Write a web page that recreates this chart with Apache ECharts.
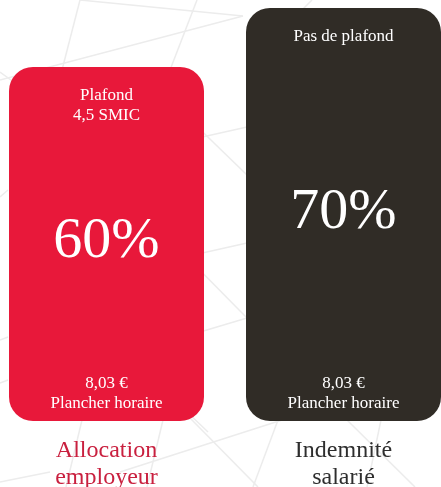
<!DOCTYPE html>
<html>
<head>
<meta charset="utf-8">
<script src="https://cdn.jsdelivr.net/npm/echarts@6/dist/echarts.min.js"></script>
<style>
  html, body { margin: 0; padding: 0; background: #fff; }
  #chart { width: 441px; height: 487px; }
</style>
</head>
<body>
<div id="chart"></div>
<script>
// données du graphique
var categories = ['Allocation\nemployeur', 'Indemnité\nsalarié'];
var values = [60, 70];
var pctLabels = ['60%', '70%'];
var topLabels = ['Plafond\n4,5 SMIC', 'Pas de plafond'];
var bottomLabels = ['8,03 €\nPlancher horaire', '8,03 €\nPlancher horaire'];
var barColors = ['#e8183a', '#302c26'];
var nameColors = ['#c9203f', '#2e2e2e'];

var serif = '"Liberation Serif", "DejaVu Serif", serif';

// motif de fond (lignes claires)
var bgLines = [
  [80, 0, 243, 16], [0, 80, 243, 16], [197, 0, 170, 70], [80, 0, 62, 70],
  [312, 0, 300, 12], [0, 72, 22, 88],
  [180, 142, 247, 127], [180, 110, 247, 175],
  [180, 258, 247, 243], [180, 250, 247, 318], [180, 338, 247, 318],
  [0, 197, 8, 190], [0, 340, 8, 337], [0, 383, 8, 380],
  [82, 420, 66, 487], [163, 420, 147, 487], [190, 418, 258, 487],
  [120, 472, 282, 420], [278, 420, 253, 487], [381, 420, 367, 487],
  [347, 420, 415, 487], [0, 482, 50, 472], [185, 410, 208, 432]
];

var chart = echarts.init(document.getElementById('chart'));

function dataWithColors() {
  return values.map(function (v, i) {
    return { value: v, itemStyle: { color: barColors[i] } };
  });
}

var option = {
  backgroundColor: '#ffffff',
  animation: false,
  graphic: bgLines.map(function (l) {
    return {
      type: 'line',
      z: 0,
      silent: true,
      shape: { x1: l[0], y1: l[1], x2: l[2], y2: l[3] },
      style: { stroke: '#ececec', lineWidth: 1.5 }
    };
  }),
  grid: {
    left: -12,
    right: -21,
    top: 8,
    bottom: 66,
    outerBoundsMode: 'none'
  },
  xAxis: {
    type: 'category',
    data: categories,
    axisLine: { show: false },
    axisTick: { show: false },
    axisLabel: {
      margin: 16,
      fontFamily: serif,
      fontSize: 24,
      lineHeight: 27,
      color: function (val, idx) { return nameColors[idx]; }
    }
  },
  yAxis: {
    type: 'value',
    min: 0,
    max: 70,
    show: false,
    splitLine: { show: false }
  },
  series: [
    {
      type: 'bar',
      z: 3,
      barWidth: 195,
      barGap: '-100%',
      data: dataWithColors(),
      itemStyle: { borderRadius: 24 },
      label: {
        show: true,
        position: 'inside',
        offset: [0, -2],
        fontFamily: serif,
        fontSize: 58,
        color: '#ffffff',
        formatter: function (p) { return pctLabels[p.dataIndex]; }
      }
    },
    {
      type: 'bar',
      z: 4,
      barWidth: 195,
      barGap: '-100%',
      data: values,
      itemStyle: { color: 'transparent' },
      label: {
        show: true,
        position: 'insideTop',
        distance: 19,
        fontFamily: serif,
        fontSize: 17,
        lineHeight: 20,
        color: '#ffffff',
        formatter: function (p) { return topLabels[p.dataIndex]; }
      }
    },
    {
      type: 'bar',
      z: 4,
      barWidth: 195,
      barGap: '-100%',
      data: values,
      itemStyle: { color: 'transparent' },
      label: {
        show: true,
        position: 'insideBottom',
        distance: 7,
        fontFamily: serif,
        fontSize: 17,
        lineHeight: 20,
        color: '#ffffff',
        formatter: function (p) { return bottomLabels[p.dataIndex]; }
      }
    }
  ]
};

chart.setOption(option);
</script>
</body>
</html>
